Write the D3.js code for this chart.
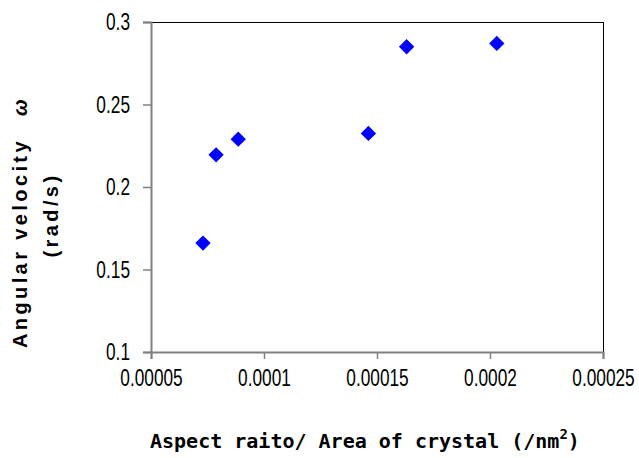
<!DOCTYPE html>
<html>
<head>
<meta charset="utf-8">
<script src="https://cdn.jsdelivr.net/npm/d3@7"></script>
<style>
  body { margin: 0; background: #fff; }
  svg { display: block; }
</style>
</head>
<body>
<div id="chart"></div>
<script>
// data
var ratio = [0.000073, 0.0000788, 0.0000886, 0.0001462, 0.0001631, 0.000203];
var omega = [0.166, 0.2195, 0.229, 0.2325, 0.285, 0.287];
var xTicks = [0.00005, 0.0001, 0.00015, 0.0002, 0.00025];
var xTickLabels = ['0.00005', '0.0001', '0.00015', '0.0002', '0.00025'];
var yTicks = [0.1, 0.15, 0.2, 0.25, 0.3];
var yTickLabels = ['0.1', '0.15', '0.2', '0.25', '0.3'];

(function() {
  var W = 639, H = 458;
  var pLeft = 151, pRight = 603, pTop = 22, pBottom = 352;
  var squeeze = 0.72; // tick labels in the original are a narrow face

  var svg = d3.select('#chart').append('svg').attr('width', W).attr('height', H);

  var x = d3.scaleLinear().domain([0.00005, 0.00025]).range([pLeft, pRight]);
  var y = d3.scaleLinear().domain([0.1, 0.3]).range([pBottom, pTop]);

  var tickFont = '"Liberation Sans", Arial, sans-serif';

  // frame: top + right black
  svg.append('path')
    .attr('d', 'M' + pLeft + ',' + (pTop + 0.5) + 'H' + (pRight + 0.5) + 'V' + pBottom)
    .attr('fill', 'none').attr('stroke', '#000').attr('stroke-width', 1)
    .attr('shape-rendering', 'crispEdges');

  // y axis
  var yAxis = svg.append('g').attr('transform', 'translate(' + pLeft + ',0)')
    .call(d3.axisLeft(y).tickValues(yTicks).tickSize(8).tickPadding(13)
      .tickFormat(function(d, i) { return yTickLabels[i]; }));
  yAxis.select('.domain').attr('stroke', '#808080').attr('stroke-width', 2);
  yAxis.selectAll('.tick line').attr('stroke', '#808080').attr('stroke-width', 1.5);
  yAxis.selectAll('.tick text')
    .attr('font-family', tickFont).attr('font-size', 24).attr('fill', '#000')
    .attr('x', -21 / squeeze)
    .attr('transform', 'scale(' + squeeze + ',1)');

  // x axis
  var xAxis = svg.append('g').attr('transform', 'translate(0,' + pBottom + ')')
    .call(d3.axisBottom(x).tickValues(xTicks).tickSize(7).tickPadding(10)
      .tickFormat(function(d, i) { return xTickLabels[i]; }));
  xAxis.select('.domain').attr('stroke', '#808080').attr('stroke-width', 2);
  xAxis.selectAll('.tick line').attr('stroke', '#808080').attr('stroke-width', 1.5);
  xAxis.selectAll('.tick text')
    .attr('font-family', tickFont).attr('font-size', 24).attr('fill', '#000')
    .attr('transform', 'scale(' + squeeze + ',1)');

  // points
  svg.append('g').selectAll('path')
    .data(ratio)
    .enter().append('path')
      .attr('d', d3.symbol().type(d3.symbolDiamond2).size(150))
      .attr('transform', function(d, i) { return 'translate(' + x(d) + ',' + y(omega[i]) + ')'; })
      .attr('fill', '#0000ff');

  // y title
  var yt = svg.append('text')
    .attr('transform', 'translate(27,222) rotate(-90)')
    .attr('text-anchor', 'middle')
    .attr('font-family', '"Liberation Sans", Arial, sans-serif')
    .attr('font-weight', 'bold').attr('font-size', 20)
    .attr('letter-spacing', 3.4)
    .style('white-space', 'pre');
  yt.append('tspan').text('Angular velocity');
  yt.append('tspan').attr('dx', 22).attr('font-style', 'italic').text('ω');

  svg.append('text')
    .attr('transform', 'translate(58,215) rotate(-90)')
    .attr('text-anchor', 'middle')
    .attr('font-family', '"Liberation Sans", Arial, sans-serif')
    .attr('font-weight', 'bold').attr('font-size', 20)
    .attr('letter-spacing', 3.4)
    .text('(rad/s)');

  // x title
  var xt = svg.append('text')
    .attr('x', 150).attr('y', 448)
    .attr('font-family', '"DejaVu Sans Mono", monospace')
    .attr('font-weight', 'bold').attr('font-size', 20)
    .style('white-space', 'pre');
  xt.append('tspan').text('Aspect raito/ Area of crystal (/nm');
  xt.append('tspan').attr('dy', -9).attr('font-size', 14).text('2');
  xt.append('tspan').attr('dy', 9).text(')');
})();
</script>
</body>
</html>
